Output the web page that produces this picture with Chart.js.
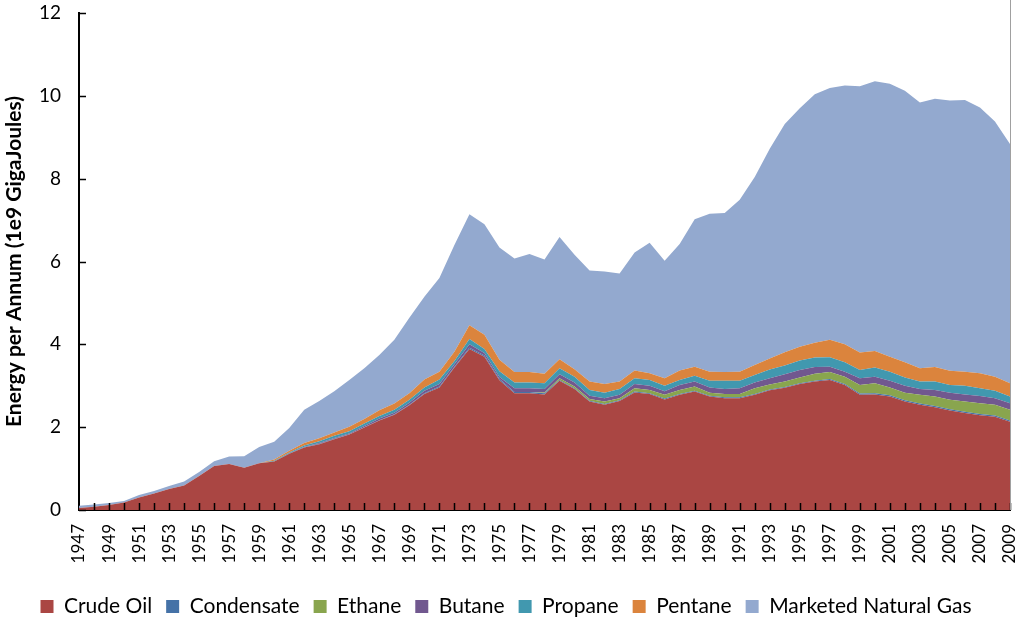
<!DOCTYPE html>
<html>
<head>
<meta charset="utf-8">
<script src="https://cdn.jsdelivr.net/npm/chart.js@4.4.1/dist/chart.umd.min.js"></script>
<style>
html,body{margin:0;padding:0;background:#fff;}
#wrap{width:1024px;height:619px;position:relative;}
</style>
</head>
<body>
<div id="wrap"><canvas id="c" width="1024" height="619"></canvas></div>
<script>
const years = [];
for (let y = 1947; y <= 2009; y++) years.push(String(y));

const crudeOil = [0.05,0.08,0.12,0.18,0.30,0.40,0.51,0.59,0.82,1.06,1.11,1.02,1.13,
  1.17,1.36,1.51,1.59,1.71,1.82,1.99,2.16,2.30,2.53,
  2.80,2.96,3.44,3.89,3.70,3.13,2.82,2.82,2.79,3.12,
  2.92,2.62,2.54,2.63,2.84,2.80,2.67,2.78,2.86,2.74,
  2.70,2.70,2.78,2.89,2.95,3.04,3.10,3.14,3.02,2.78,
  2.79,2.74,2.62,2.54,2.48,2.40,2.34,2.29,2.25,2.13];
const condensate = [0,0,0,0,0,0,0,0,0,0,0,0,0,
  0,0.01,0.01,0.01,0.01,0.01,0.01,0.01,0.01,0.01,
  0.02,0.02,0.02,0.03,0.03,0.03,0.03,0.03,0.03,0.02,
  0.02,0.02,0.02,0.02,0.02,0.02,0.02,0.02,0.02,0.02,
  0.02,0.02,0.02,0.02,0.02,0.02,0.02,0.02,0.02,0.03,
  0.03,0.03,0.03,0.03,0.03,0.03,0.03,0.03,0.03,0.03];
const ethane = [0,0,0,0,0,0,0,0,0,0,0,0,0,
  0,0,0,0,0,0,0,0,0,0,
  0,0,0,0,0,0,0,0,0.02,0.04,
  0.04,0.04,0.06,0.05,0.08,0.08,0.09,0.10,0.10,0.07,
  0.08,0.08,0.14,0.12,0.13,0.14,0.17,0.17,0.18,0.21,
  0.24,0.19,0.18,0.21,0.23,0.23,0.25,0.26,0.26,0.26];
const butane = [0,0,0,0,0,0,0,0,0,0,0,0,0,
  0,0,0.01,0.02,0.02,0.02,0.03,0.04,0.04,0.05,
  0.06,0.06,0.06,0.08,0.06,0.05,0.09,0.09,0.08,0.10,
  0.10,0.08,0.08,0.08,0.10,0.10,0.09,0.12,0.12,0.13,
  0.12,0.14,0.14,0.15,0.18,0.18,0.16,0.13,0.12,0.16,
  0.16,0.16,0.17,0.14,0.16,0.17,0.17,0.17,0.16,0.16];
const propane = [0,0,0,0,0,0,0,0,0,0,0,0,0,
  0.02,0.02,0.03,0.04,0.05,0.05,0.06,0.06,0.07,0.07,
  0.08,0.11,0.08,0.13,0.10,0.14,0.14,0.14,0.14,0.14,
  0.14,0.14,0.13,0.14,0.14,0.14,0.13,0.12,0.14,0.16,
  0.20,0.18,0.18,0.21,0.21,0.23,0.23,0.23,0.23,0.20,
  0.22,0.22,0.20,0.18,0.20,0.19,0.21,0.19,0.18,0.16];
const pentane = [0,0,0,0,0,0,0,0,0,0,0,0,0,
  0.03,0.04,0.06,0.07,0.08,0.11,0.11,0.14,0.15,0.16,
  0.19,0.19,0.22,0.33,0.34,0.28,0.25,0.25,0.23,0.22,
  0.18,0.20,0.21,0.18,0.19,0.16,0.18,0.23,0.22,0.22,
  0.21,0.22,0.24,0.27,0.32,0.33,0.36,0.42,0.43,0.42,
  0.40,0.36,0.37,0.32,0.35,0.34,0.34,0.36,0.34,0.32];
const naturalGas = [0.05,0.05,0.05,0.04,0.06,0.06,0.07,0.10,0.10,0.12,0.18,0.28,0.39,
  0.43,0.55,0.80,0.90,1.00,1.13,1.22,1.33,1.54,1.82,
  2.00,2.26,2.58,2.68,2.67,2.71,2.74,2.85,2.76,2.95,
  2.76,2.68,2.72,2.61,2.85,3.15,2.84,3.05,3.56,3.81,
  3.84,4.15,4.54,5.06,5.51,5.76,6.00,6.08,6.25,6.43,
  6.51,6.59,6.55,6.42,6.48,6.53,6.56,6.42,6.16,5.78];

const yTicks = [0,2,4,6,8,10,12];

const seriesNames = ['Crude Oil','Condensate','Ethane','Butane','Propane','Pentane','Marketed Natural Gas'];
const seriesData = [crudeOil, condensate, ethane, butane, propane, pentane, naturalGas];
const seriesColors = ['#AA4643','#4572A7','#89A54E','#71588F','#4198AF','#DB843D','#93A9CF'];

const FONT = "Lato, 'Liberation Sans', sans-serif";

const innerTicks = {
  id: 'innerTicks',
  afterDatasetsDraw(chart) {
    const ctx = chart.ctx, a = chart.chartArea;
    const xs = chart.scales.x, ys = chart.scales.y;
    ctx.save();
    ctx.strokeStyle = '#000';
    ctx.lineWidth = 1.5;
    ctx.beginPath();
    for (let i = 1; i < years.length; i++) {
      const px = Math.round(xs.getPixelForValue(i)) + 0.5;
      ctx.moveTo(px, a.bottom);
      ctx.lineTo(px, a.bottom - 7);
    }
    yTicks.forEach(v => {
      const py = Math.round(ys.getPixelForValue(v)) + 0.5;
      ctx.moveTo(a.left, py);
      ctx.lineTo(a.left + 7, py);
    });
    ctx.stroke();
    ctx.strokeStyle = '#a0a0a0';
    ctx.lineWidth = 1;
    ctx.beginPath();
    ctx.moveTo(a.right + 0.5, 0);
    ctx.lineTo(a.right + 0.5, a.bottom);
    ctx.stroke();
    ctx.restore();
  }
};

new Chart(document.getElementById('c'), {
  type: 'line',
  data: {
    labels: years,
    datasets: seriesNames.map((n, i) => ({
      label: n,
      data: seriesData[i],
      backgroundColor: seriesColors[i],
      borderColor: seriesColors[i],
      borderWidth: 0,
      pointRadius: 0,
      pointHoverRadius: 0,
      tension: 0,
      fill: i === 0 ? 'origin' : '-1'
    }))
  },
  plugins: [innerTicks],
  options: {
    responsive: false,
    animation: false,
    devicePixelRatio: 1,
    layout: { padding: { top: 13, right: 14, left: 2, bottom: -8 } },
    plugins: {
      legend: {
        position: 'bottom',
        labels: {
          font: { family: FONT, size: 21 },
          color: '#000',
          boxWidth: 13,
          boxHeight: 13,
          padding: 14
        }
      },
      tooltip: { enabled: false },
      filler: { propagate: false }
    },
    scales: {
      x: {
        offset: false,
        grid: { display: false },
        border: { display: true, color: '#000', width: 2 },
        afterFit: s => { s.height = 72; s.paddingLeft = 0; s.paddingRight = 0; },
        ticks: {
          autoSkip: false,
          maxRotation: 90,
          minRotation: 90,
          color: '#000',
          padding: 6,
          font: { family: FONT, size: 17 },
          callback: function(v, idx) { return idx % 2 === 0 ? years[idx] : ''; }
        }
      },
      y: {
        stacked: true,
        min: 0,
        max: 12,
        afterFit: s => { s.width = 77; s.paddingTop = 0; s.paddingBottom = 0; },
        afterBuildTicks: s => { s.ticks = yTicks.map(v => ({ value: v })); },
        grid: { display: false },
        border: { display: true, color: '#000', width: 2 },
        ticks: {
          color: '#000',
          padding: 10,
          font: { family: FONT, size: 19 }
        },
        title: {
          display: true,
          text: 'Energy per Annum (1e9 GigaJoules)',
          color: '#000',
          font: { family: FONT, size: 21, weight: 'bold' },
          padding: { top: 0, bottom: 4 }
        }
      }
    }
  }
});
</script>
</body>
</html>
